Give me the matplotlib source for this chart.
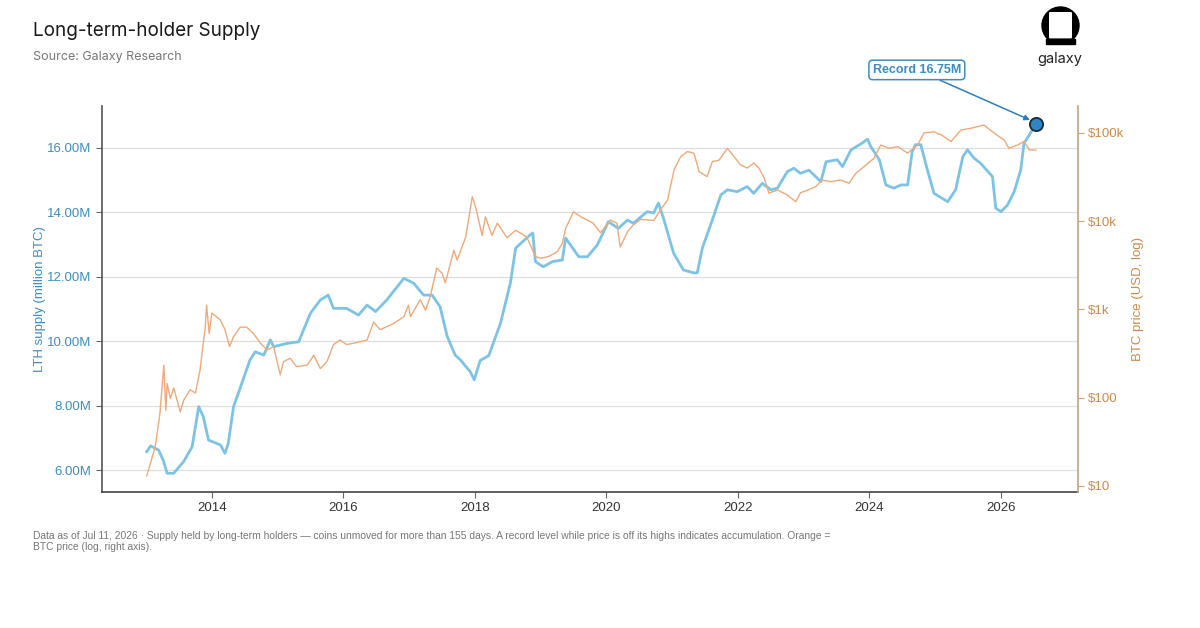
import matplotlib
matplotlib.use("Agg")
import matplotlib.pyplot as plt
from matplotlib.ticker import FixedLocator, FuncFormatter
from matplotlib.patches import Circle, Rectangle, FancyBboxPatch

# ---------------- data ----------------
lth_years = [2013.01, 2013.07, 2013.19, 2013.26, 2013.32, 2013.42, 2013.57, 2013.70, 2013.80,
             2013.87, 2013.95, 2014.13, 2014.20, 2014.25, 2014.33, 2014.43, 2014.58, 2014.66,
             2014.79, 2014.89, 2014.94, 2015.14, 2015.32, 2015.50, 2015.65, 2015.77, 2015.85,
             2016.05, 2016.23, 2016.36, 2016.49, 2016.66, 2016.92, 2017.07, 2017.22, 2017.35,
             2017.47, 2017.58, 2017.70, 2017.78, 2017.93, 2017.99, 2018.08, 2018.21, 2018.39,
             2018.54, 2018.62, 2018.84, 2018.88, 2018.92, 2019.04, 2019.18, 2019.33, 2019.38,
             2019.58, 2019.71, 2019.86, 2020.03, 2020.18, 2020.32, 2020.41, 2020.52, 2020.62,
             2020.72, 2020.79, 2020.87, 2021.02, 2021.17, 2021.33, 2021.38, 2021.46, 2021.61,
             2021.74, 2021.84, 2021.99, 2022.14, 2022.24, 2022.37, 2022.50, 2022.60, 2022.75,
             2022.85, 2022.95, 2023.08, 2023.26, 2023.34, 2023.51, 2023.59, 2023.72, 2023.89,
             2023.97, 2024.02, 2024.15, 2024.25, 2024.37, 2024.48, 2024.58, 2024.65, 2024.70,
             2024.78, 2024.88, 2024.98, 2025.19, 2025.31, 2025.42, 2025.49, 2025.59, 2025.69,
             2025.87, 2025.92, 2026.00, 2026.10, 2026.20, 2026.30, 2026.35, 2026.43, 2026.53]
lth_supply_m = [6.57, 6.75, 6.62, 6.31, 5.90, 5.90, 6.26, 6.72, 7.97,
                7.66, 6.93, 6.78, 6.52, 6.83, 7.97, 8.54, 9.42, 9.67,
                9.57, 10.04, 9.83, 9.93, 9.98, 10.87, 11.28, 11.43, 11.02,
                11.02, 10.81, 11.12, 10.92, 11.28, 11.95, 11.80, 11.43, 11.43,
                11.07, 10.14, 9.57, 9.42, 9.05, 8.80, 9.40, 9.55, 10.56,
                11.81, 12.89, 13.30, 13.36, 12.47, 12.31, 12.47, 12.52, 13.20,
                12.62, 12.62, 12.98, 13.71, 13.50, 13.76, 13.66, 13.85, 14.02,
                13.98, 14.29, 13.80, 12.74, 12.21, 12.12, 12.12, 12.90, 13.76,
                14.54, 14.70, 14.64, 14.80, 14.59, 14.90, 14.70, 14.75, 15.26,
                15.37, 15.21, 15.31, 14.95, 15.57, 15.63, 15.42, 15.94, 16.15,
                16.27, 16.04, 15.63, 14.85, 14.75, 14.85, 14.85, 15.89, 16.10,
                16.10, 15.32, 14.59, 14.33, 14.70, 15.73, 15.94, 15.68, 15.52,
                15.11, 14.13, 14.02, 14.23, 14.64, 15.32, 16.15, 16.40, 16.75]

price_years = [2013.01, 2013.14, 2013.21, 2013.27, 2013.30, 2013.32, 2013.37, 2013.42, 2013.52,
               2013.57, 2013.67, 2013.75, 2013.82, 2013.90, 2013.92, 2013.96, 2014.00, 2014.13,
               2014.20, 2014.27, 2014.33, 2014.43, 2014.53, 2014.63, 2014.74, 2014.84, 2014.94,
               2015.04, 2015.09, 2015.19, 2015.29, 2015.45, 2015.55, 2015.65, 2015.75, 2015.85,
               2015.95, 2016.05, 2016.16, 2016.36, 2016.46, 2016.56, 2016.76, 2016.92, 2016.99,
               2017.02, 2017.17, 2017.25, 2017.32, 2017.42, 2017.50, 2017.55, 2017.68, 2017.73,
               2017.86, 2017.96, 2018.01, 2018.11, 2018.16, 2018.26, 2018.34, 2018.49, 2018.62,
               2018.79, 2018.92, 2019.00, 2019.12, 2019.25, 2019.33, 2019.38, 2019.50, 2019.63,
               2019.80, 2019.91, 2020.06, 2020.16, 2020.21, 2020.32, 2020.41, 2020.52, 2020.72,
               2020.82, 2020.93, 2021.03, 2021.13, 2021.23, 2021.33, 2021.41, 2021.53, 2021.61,
               2021.71, 2021.84, 2021.94, 2022.04, 2022.14, 2022.24, 2022.32, 2022.40, 2022.47,
               2022.60, 2022.75, 2022.88, 2022.95, 2023.06, 2023.18, 2023.28, 2023.41, 2023.56,
               2023.69, 2023.79, 2023.95, 2024.07, 2024.17, 2024.30, 2024.43, 2024.58, 2024.73,
               2024.83, 2024.98, 2025.09, 2025.24, 2025.39, 2025.54, 2025.74, 2025.87, 2025.97,
               2026.05, 2026.12, 2026.25, 2026.35, 2026.43, 2026.53]
btc_price = [13, 28, 66, 234, 72, 145, 98, 129, 69,
             93, 123, 113, 203, 630, 1120, 535, 910, 760,
             590, 380, 490, 630, 630, 535, 415, 348, 380,
             182, 256, 280, 225, 234, 303, 214, 256, 400,
             450, 400, 415, 450, 720, 590, 690, 830, 1120,
             830, 1290, 980, 1390, 2950, 2570, 2000, 4680, 3630,
             6600, 19000, 14500, 6900, 11200, 6900, 9500, 6500, 7900,
             6600, 3980, 3800, 3980, 4500, 5600, 8300, 12800, 11000,
             9500, 7400, 10300, 9500, 5100, 7600, 9100, 10500, 10200,
             13400, 17400, 38500, 54000, 61500, 59000, 36500, 32000, 47300,
             49000, 67000, 54000, 43500, 40000, 45500, 40000, 30700, 20800,
             22600, 19800, 16600, 21000, 22500, 24600, 29300, 28000, 29300,
             26900, 34800, 43500, 51800, 73000, 67000, 70000, 59000, 73000,
             100000, 103000, 95000, 80000, 108000, 113000, 123000, 103000, 91000,
             83000, 67000, 73000, 80000, 64300, 64000]

left_ticks = [6, 8, 10, 12, 14, 16]
right_ticks = [10, 100, 1000, 10000, 100000]
right_tick_labels = ["$10", "$100", "$1k", "$10k", "$100k"]
year_ticks = [2014, 2016, 2018, 2020, 2022, 2024, 2026]
record_year, record_value = 2026.53, 16.75

# ---------------- style ----------------
BLUE = "#7cc3e6"
BLUE_TXT = "#3d8dbf"
ORANGE = "#f0a978"
ORANGE_TXT = "#cf8a45"
ORANGE_SPINE = "#caa27a"

plt.rcParams["font.family"] = ["Liberation Sans", "DejaVu Sans"]

fig = plt.figure(figsize=(12, 6.28), dpi=100)
ax = fig.add_axes([0.085, 0.2166, 0.8133, 0.6146])
ax2 = ax.twinx()

ax.plot(lth_years, lth_supply_m, color=BLUE, lw=2.0, zorder=3)
ax2.plot(price_years, btc_price, color=ORANGE, lw=1.0, zorder=2)

ax.set_xlim(2012.33, 2027.17)
ax.set_ylim(5.32, 17.30)
ax2.set_yscale("log")

ax.yaxis.set_major_locator(FixedLocator(left_ticks))
ax.yaxis.set_major_formatter(FuncFormatter(lambda v, p: f"{v:.2f}M"))
ax.xaxis.set_major_locator(FixedLocator(year_ticks))
ax.xaxis.set_major_formatter(FuncFormatter(lambda v, p: f"{int(v)}"))
ax.grid(axis="y", color="#dedede", lw=0.9)
ax.set_axisbelow(True)

ax.tick_params(axis="y", colors=BLUE_TXT, labelsize=9.5, length=4, direction="out")
ax.tick_params(axis="y", which="both", color="#666666")
ax.tick_params(axis="x", labelsize=9.5, labelcolor="#333333", color="#666666", length=4)
ax.set_ylabel("LTH supply (million BTC)", color=BLUE_TXT, fontsize=9.5, labelpad=1)

ax2.yaxis.set_major_locator(FixedLocator(right_ticks))
ax2.yaxis.set_minor_locator(FixedLocator([]))
ax2.set_yticklabels(right_tick_labels)
ax2.set_ylim(8.55, 202000)
ax2.tick_params(axis="y", colors=ORANGE_TXT, labelsize=9.5, length=4)
ax2.tick_params(axis="y", color=ORANGE_SPINE)
ax2.set_ylabel("BTC price (USD, log)", color=ORANGE_TXT, fontsize=9.5, labelpad=5)

for a in (ax, ax2):
    a.spines["top"].set_visible(False)
ax.spines["left"].set_color("#555555")
ax.spines["bottom"].set_color("#444444")
ax.spines["right"].set_visible(False)
ax2.spines["left"].set_visible(False)
ax2.spines["bottom"].set_visible(False)
ax2.spines["right"].set_color(ORANGE_SPINE)
ax2.spines["right"].set_linewidth(1.2)
ax.spines["left"].set_linewidth(1.2)
ax.spines["bottom"].set_linewidth(1.2)

# record marker & annotation (drawn on top axes using left-axis data coords)
ax2.plot([record_year], [record_value], marker="o", ms=9.5, mfc="#2f86c6", mec="#1a2a3a",
         mew=1.3, transform=ax.transData, zorder=6, clip_on=False)
ax2.annotate(f"Record {record_value:.2f}M", xy=(record_year - 0.05, record_value + 0.08),
             xycoords=ax.transData, xytext=(2024.72, 18.42), textcoords=ax.transData,
             ha="center", va="center", fontsize=9, fontweight="bold", color=BLUE_TXT,
             bbox=dict(boxstyle="round,pad=0.3", fc="white", ec=BLUE_TXT, lw=1.1),
             arrowprops=dict(arrowstyle="-|>", color="#2f7fb5", lw=1.1, mutation_scale=8,
                             shrinkA=0, shrinkB=2),
             annotation_clip=False, zorder=7)
ax2.set_ylim(8.55, 202000)

# titles
fig.text(33/1200, 1 - 31/628, "Long-term-holder Supply", fontsize=13.6, color="#1a1a1a",
         family=["Inter", "DejaVu Sans"], va="center", ha="left")
fig.text(33/1200, 1 - 57/628, "Source: Galaxy Research", fontsize=9, color="#777777",
         family=["Inter", "DejaVu Sans"], va="center", ha="left")

# footnote
fig.text(33/1200, 1 - 531/628,
         "Data as of Jul 11, 2026 \u00b7 Supply held by long-term holders \u2014 coins unmoved for more than 155 days. "
         "A record level while price is off its highs indicates accumulation. Orange =\nBTC price (log, right axis).",
         fontsize=7.4, color="#777777", va="top", ha="left", linespacing=1.1)

# logo
lax = fig.add_axes([1035/1200, 1 - 49/628, 50/1200, 45/628])
lax.set_xlim(1035, 1085)
lax.set_ylim(49, 4)
lax.axis("off")
lax.add_patch(Circle((1060.5, 25.5), 18.5, color="black"))
lax.add_patch(FancyBboxPatch((1049, 12), 23, 26.5, boxstyle="round,pad=0,rounding_size=1.2",
                             fc="white", ec="none"))
lax.add_patch(Rectangle((1046, 38.5), 29, 5.5, color="black"))
fig.text(1060/1200, 1 - 59/628, "galaxy", fontsize=10.5, color="#222222",
         family=["Inter", "DejaVu Sans"], ha="center", va="center")

fig.savefig("out.png", dpi=100, facecolor="white")
